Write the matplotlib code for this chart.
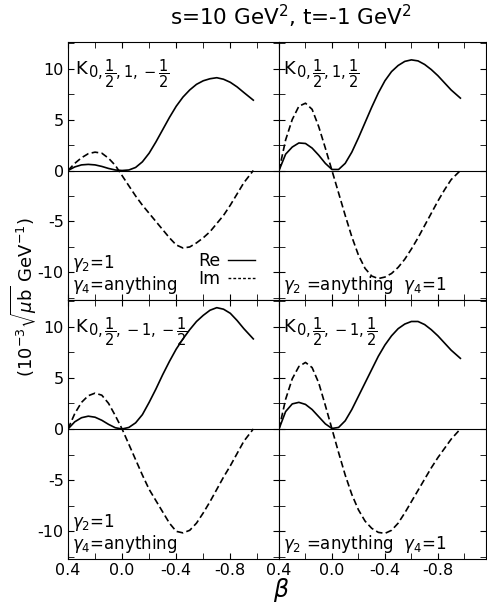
import numpy as np
import matplotlib
matplotlib.use('Agg')
import matplotlib.pyplot as plt
from matplotlib.lines import Line2D
from matplotlib.ticker import MultipleLocator, FormatStrFormatter

plt.rcParams['axes.unicode_minus'] = False
plt.rcParams['font.family'] = 'DejaVu Sans'
plt.rcParams['mathtext.fontset'] = 'dejavusans'

beta = [0.40, 0.35, 0.30, 0.25, 0.20, 0.15, 0.10, 0.05, 0.00, -0.05, -0.10,
        -0.15, -0.20, -0.25, -0.30, -0.35, -0.40, -0.45, -0.50, -0.55, -0.60,
        -0.65, -0.70, -0.75, -0.80, -0.85, -0.90, -0.97]

# top left: K_{0,1/2,1,-1/2}
re_a = [0, 0.35, 0.55, 0.6, 0.55, 0.4, 0.2, 0.05, 0.0, 0.05, 0.3, 0.85, 1.7,
        2.8, 4.0, 5.2, 6.3, 7.2, 7.9, 8.45, 8.8, 9.0, 9.1, 8.95, 8.65, 8.2,
        7.65, 6.9]
im_a = [0, 0.7, 1.25, 1.65, 1.8, 1.7, 1.2, 0.5, -0.5, -1.5, -2.5, -3.4, -4.2,
        -5.0, -5.8, -6.6, -7.3, -7.6, -7.5, -7.1, -6.6, -6.0, -5.2, -4.4,
        -3.4, -2.3, -1.2, 0.0]

# top right: K_{0,1/2,1,1/2}
re_b = [0, 1.6, 2.3, 2.7, 2.65, 2.2, 1.5, 0.7, 0.1, 0.1, 0.7, 1.8, 3.2, 4.7,
        6.2, 7.6, 8.8, 9.7, 10.3, 10.7, 10.85, 10.75, 10.4, 9.9, 9.3, 8.6,
        7.9, 7.1]
im_b = [0, 3.0, 5.0, 6.3, 6.6, 6.0, 4.3, 2.2, 0.0, -2.2, -4.4, -6.5, -8.3,
        -9.6, -10.35, -10.6, -10.45, -10.1, -9.5, -8.7, -7.7, -6.6, -5.4,
        -4.2, -3.0, -1.9, -0.9, 0.0]

# bottom left: K_{0,1/2,-1,-1/2}
re_c = [0, 0.7, 1.1, 1.25, 1.15, 0.85, 0.45, 0.12, 0.0, 0.15, 0.6, 1.4, 2.6,
        3.9, 5.3, 6.6, 7.8, 8.8, 9.7, 10.5, 11.1, 11.6, 11.85, 11.7, 11.3,
        10.6, 9.8, 8.8]
im_c = [0, 1.5, 2.6, 3.25, 3.5, 3.3, 2.5, 1.3, 0.0, -1.5, -3.0, -4.5, -5.9,
        -7.0, -8.1, -9.2, -10.0, -10.15, -9.9, -9.2, -8.2, -7.1, -5.9, -4.7,
        -3.6, -2.4, -1.2, 0.0]

# bottom right: K_{0,1/2,-1,1/2}
re_d = [0, 1.7, 2.45, 2.6, 2.4, 1.9, 1.2, 0.5, 0.05, 0.15, 0.8, 1.9, 3.2,
        4.5, 5.8, 7.1, 8.2, 9.1, 9.8, 10.25, 10.5, 10.5, 10.2, 9.7, 9.1,
        8.4, 7.7, 6.9]
im_d = [0, 2.9, 4.9, 6.1, 6.5, 6.0, 4.5, 2.3, 0.0, -2.3, -4.5, -6.4, -7.9,
        -9.0, -9.7, -10.1, -10.2, -9.9, -9.2, -8.2, -7.1, -6.0, -4.9, -3.8,
        -2.8, -1.9, -1.0, 0.0]

# subscripts of K for each panel
subs = [r'$0,\dfrac{1}{2},1,-\dfrac{1}{2}$',
        r'$0,\dfrac{1}{2},1,\dfrac{1}{2}$',
        r'$0,\dfrac{1}{2},-1,-\dfrac{1}{2}$',
        r'$0,\dfrac{1}{2},-1,\dfrac{1}{2}$']
gamma_left = [r'$\gamma_2$=1', r'$\gamma_4$=anything']
gamma_right = r'$\gamma_2$ =anything  $\gamma_4$=1'

fig = plt.figure(figsize=(4.87, 6.03), dpi=100)
L, M, R = 0.1396, 0.5729, 0.997
T, H, B = 0.9303, 0.5025, 0.073
boxes = [[L, H, M - L, T - H], [M, H, R - M, T - H],
         [L, B, M - L, H - B], [M, B, R - M, H - B]]
curves = [(re_a, im_a), (re_b, im_b), (re_c, im_c), (re_d, im_d)]

for i, (box, (re, im)) in enumerate(zip(boxes, curves)):
    ax = fig.add_axes(box)
    ax.axhline(0, color='black', lw=0.8)
    ax.plot(beta, re, color='black', lw=1.2)
    ax.plot(beta, im, color='black', lw=1.2, dashes=(4, 2))
    ax.set_xlim(0.4, -1.16)
    ax.set_ylim(-12.7, 12.6)
    ax.xaxis.set_major_locator(MultipleLocator(0.4))
    ax.xaxis.set_minor_locator(MultipleLocator(0.2))
    ax.yaxis.set_major_locator(MultipleLocator(5))
    ax.yaxis.set_minor_locator(MultipleLocator(2.5))
    ax.xaxis.set_major_formatter(FormatStrFormatter('%.1f'))
    ax.tick_params(which='both', direction='in', top=True, right=True,
                   labelsize=11.5, pad=3)
    ax.tick_params(which='major', length=4)
    ax.tick_params(which='minor', length=4)
    if i < 2:
        ax.tick_params(labelbottom=False)
    if i % 2 == 1:
        ax.tick_params(labelleft=False)
    k = ax.text(0.035 if i % 2 == 0 else 0.02, 0.875, 'K',
                transform=ax.transAxes, fontsize=13, va='baseline', ha='left')
    ax.annotate(subs[i], xy=(1, 0), xycoords=k, xytext=(0.5, 0.0),
                textcoords='offset points', fontsize=10.5, va='baseline',
                ha='left')
    if i % 2 == 0:
        ax.text(0.02, 0.125, gamma_left[0], transform=ax.transAxes,
                fontsize=12, va='baseline')
        ax.text(0.02, 0.04, gamma_left[1], transform=ax.transAxes,
                fontsize=12, va='baseline')
    else:
        ax.text(0.02, 0.04, gamma_right, transform=ax.transAxes,
                fontsize=12, va='baseline')
    if i == 0:
        handles = [Line2D([], [], color='black', lw=1.0),
                   Line2D([], [], color='black', lw=1.0, dashes=(2, 1.5))]
        ax.legend(handles, ['Re', 'Im'], markerfirst=False, frameon=False,
                  loc='lower left', bbox_to_anchor=(0.56, 0.0),
                  fontsize=12.5, handlelength=1.6, handletextpad=0.4,
                  labelspacing=0.0, borderpad=0.2)

fig.text(0.597, 0.972, r's=10 GeV$^2$, t=-1 GeV$^2$', fontsize=15.5,
         ha='center', va='center')
fig.text(0.05, 0.507, r'(10$^{-3}$$\sqrt{\mu \mathrm{b}}$ GeV$^{-1}$)',
         rotation=90, fontsize=13, ha='center', va='center')
fig.text(0.578, 0.021, r'$\beta$', fontsize=17, ha='center', va='center')

fig.savefig('out.png', dpi=100, facecolor='white')
